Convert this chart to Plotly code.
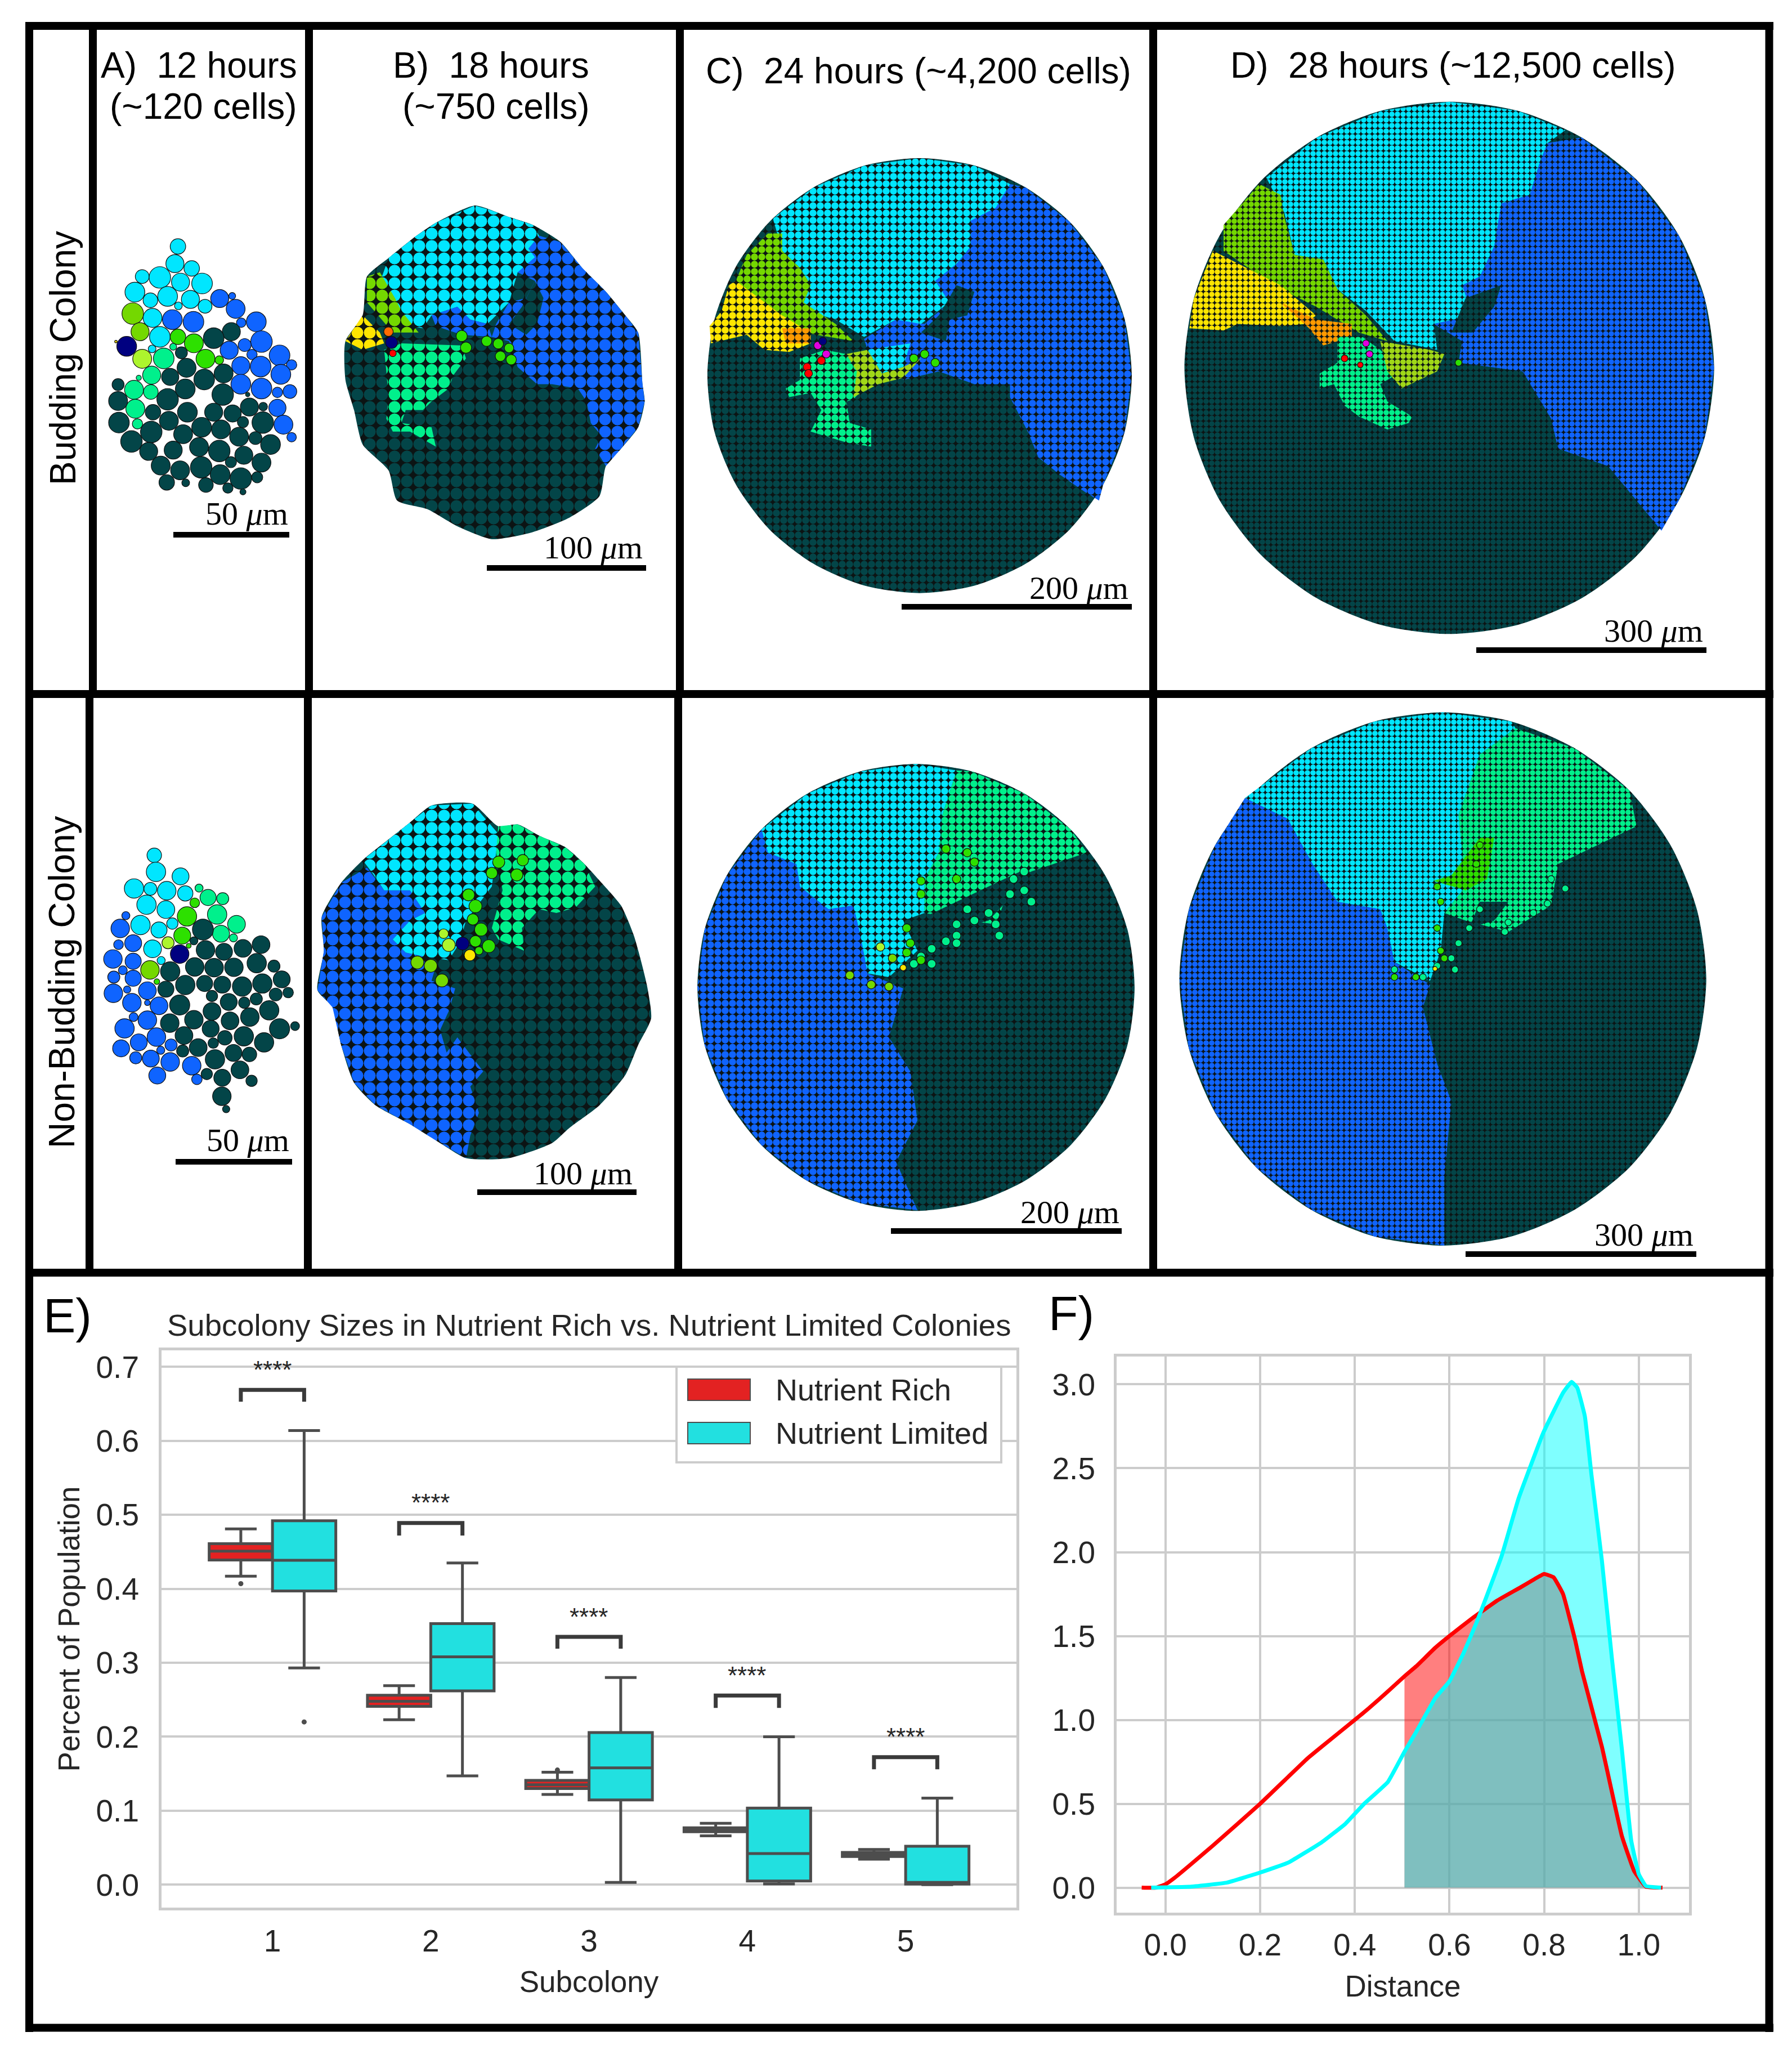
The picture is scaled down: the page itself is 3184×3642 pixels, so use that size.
#!/usr/bin/env python3
"""Budding vs non-budding colony snapshots with subcolony box plot and distance KDE."""
import plotly.graph_objects as go

PAGE = 8  # the browser keeps the default body margin around the figure
WIDTH, HEIGHT = 3184 - PAGE, 3642 - PAGE
FONT = "Liberation Sans"

CYAN = "#00e6ff"
BLUE = "#0f64ff"
DARK = "#034548"
MINT = "#00f08c"
OLIVE = "#74d800"
LIGHT = "#adf52d"
LIME = "#a0d818"
GREEN = "#2de000"
YELLOW = "#ffe600"
ORANGE = "#ff9a00"
NAVY = "#000080"
RED = "#ff0000"
MAGENTA = "#e000e0"

# --- panel E values, one entry per subcolony
subcolony = [1, 2, 3, 4, 5]
rich_q1 = [0.439, 0.241, 0.130, 0.0716, 0.038]
rich_med = [0.451, 0.248, 0.135, 0.074, 0.041]
rich_q3 = [0.461, 0.256, 0.141, 0.0768, 0.0436]
rich_low = [0.417, 0.223, 0.122, 0.066, 0.0345]
rich_high = [0.481, 0.269, 0.152, 0.083, 0.0475]
limited_q1 = [0.397, 0.262, 0.1145, 0.005, 0.0007]
limited_med = [0.4385, 0.308, 0.158, 0.042, 0.003]
limited_q3 = [0.492, 0.353, 0.2056, 0.1035, 0.052]
limited_low = [0.293, 0.147, 0.003, 0.001, 0.0]
limited_high = [0.614, 0.435, 0.28, 0.2, 0.117]
rich_outlier_cat = [1, 3]
rich_outlier_val = [0.407, 0.155]
limited_outlier_cat = [1]
limited_outlier_val = [0.22]
bracket_top = [0.669, 0.489, 0.335, 0.2557, 0.1724]
bracket_low = [0.653, 0.472, 0.319, 0.239, 0.156]
star_y = [0.696, 0.5166, 0.362, 0.283, 0.2]

# --- panel F curves
red_x = [-0.05, -0.02, 0.0, 0.02, 0.05, 0.1, 0.2, 0.3, 0.33, 0.4, 0.43, 0.47, 0.505, 0.53, 0.57, 0.6,
         0.65, 0.68, 0.7, 0.75, 0.78, 0.8, 0.82, 0.84, 0.866, 0.88, 0.922, 0.964, 0.99, 1.015, 1.05]
red_y = [0, 0, 0.02, 0.06, 0.13, 0.25, 0.5, 0.77, 0.84, 1.0, 1.07, 1.17, 1.26, 1.32, 1.43, 1.5,
         1.61, 1.67, 1.71, 1.79, 1.84, 1.87, 1.85, 1.75, 1.47, 1.29, 0.84, 0.31, 0.1, 0.006, 0]
cyan_x = [-0.03, 0.05, 0.13, 0.2, 0.26, 0.33, 0.38, 0.42, 0.47, 0.505, 0.53, 0.57, 0.6, 0.63, 0.66,
          0.71, 0.746, 0.798, 0.84, 0.858, 0.87, 0.886, 0.9, 0.922, 0.943, 0.964, 0.984, 1.0, 1.015, 1.047]
cyan_y = [0, 0.005, 0.03, 0.09, 0.15, 0.27, 0.38, 0.5, 0.63, 0.81, 0.93, 1.13, 1.23, 1.4, 1.6,
          1.975, 2.32, 2.71, 2.95, 3.015, 2.98, 2.81, 2.46, 1.95, 1.37, 0.83, 0.28, 0.08, 0.01, 0]

# --- colonies are kept in the pixel units of crops of the source figure
CROP_UPPER = (40, 40, 0.765, 0.765)
CROP_LOWER = (40, 1220, 0.765, 0.67)
CROP_UPPER_R = (1200, 40, 1.265, 0.765)
CROP_LOWER_R = (1200, 1220, 1.265, 0.67)

# panel A budding: x, y, diameter
a_top_cyan = [(361,520,36),(354,560,42),(393,571,36),(278,590,32),(319,592,50),(367,603,42),(417,606,48),(261,626,46),
              (297,645,34),(337,636,46),(390,643,42),(424,659,32),(302,686,44),(362,658,18),(319,730,48),(301,758,18)]
a_top_blue = [(458,641,42),(487,635,16),(495,665,44),(348,690,46),(397,695,48),(508,697,22),(543,695,46),(555,741,50),
              (480,761,42),(516,749,30),(533,771,24),(597,773,48),(507,797,42),(553,799,48),(625,795,24),(600,817,46),
              (507,840,46),(555,850,48),(592,859,24),(621,857,32),(592,895,40),(606,934,44),(625,963,22)]
a_top_olive = [(256,676,50),(273,718,42)]
a_top_light = [(278,781,44)]
a_top_navy = [(242,752,46)]
a_top_yellow = [(217,741,6)]
a_top_green = [(361,730,36),(398,745,44),(425,781,44),(457,784,20)]
a_top_mint = [(350,753,16),(328,780,48),(300,819,42),(270,825,12),(259,853,44),(298,858,34),(262,897,44),(267,932,24)]
a_top_dark = [(485,718,42),(444,733,48),(369,767,28),(381,802,44),(343,823,40),(422,829,48),(467,815,44),(222,841,28),
              (222,879,44),(337,875,50),(378,851,46),(465,864,50),(527,893,42),(559,892,20),(523,864,10),(303,905,36),
              (383,905,46),(444,905,42),(488,908,40),(224,929,48),(340,925,44),(558,929,50),(512,928,26),(299,951,50),
              (373,956,44),(416,940,46),(461,945,44),(253,973,50),(293,996,42),(350,993,42),(410,986,44),(503,962,44),
              (541,965,30),(576,980,46),(457,995,50),(514,1005,42),(321,1029,44),(366,1040,44),(415,1033,50),(484,1021,26),
              (555,1022,44),(459,1050,46),(507,1059,50),(545,1056,26),(335,1068,36),(379,1069,18),(426,1074,34),(477,1081,24),(512,1090,14)]

# panel A non-budding
a_low_cyan = [(306,447,36),(310,491,48),(367,503,42),(259,535,48),(297,536,32),(335,541,46),(378,548,38),(288,578,48),
              (333,591,44),(274,632,48),(317,645,40),(348,628,28),(302,695,44),(322,726,20)]
a_low_mint = [(410,534,20),(431,559,40),(465,562,30),(452,604,48),(497,630,44),(461,655,42),(490,666,20)]
a_low_green = [(400,573,24),(382,609,48),(371,660,42),(386,687,12),(312,782,14)]
a_low_olive = [(296,751,46)]
a_low_light = [(338,679,30)]
a_low_navy = [(365,709,46)]
a_low_blue = [(240,607,20),(227,641,46),(257,680,42),(223,684,24),(210,722,46),(257,728,40),(233,752,22),(212,770,30),
              (257,773,40),(211,813,46),(243,803,18),(290,806,44),(254,838,46),(290,838,14),(317,846,44),(258,876,22),
              (290,884,46),(237,906,48),(311,929,46),(270,943,42),(229,959,42),(345,950,30),(321,964,20),(263,984,30),
              (298,986,42),(343,995,46),(393,1005,46),(313,1031,42),(405,1041,26)]
a_low_dark = [(419,644,52),(398,674,20),(425,698,46),(468,703,42),(512,694,44),(554,684,44),(544,733,48),(584,741,30),
              (400,743,46),(445,745,46),(491,744,46),(343,755,48),(378,791,48),(423,787,40),(464,790,42),(510,795,48),
              (557,787,48),(602,776,42),(333,802,40),(440,820,28),(588,816,32),(617,811,26),(365,844,50),(479,836,42),
              (515,838,28),(543,828,30),(440,861,44),(573,858,48),(342,892,46),(398,883,46),(482,886,44),(528,876,46),
              (437,907,42),(597,907,50),(633,900,22),(375,925,44),(470,931,36),(514,927,48),(561,943,48),(443,945,26),
              (408,957,44),(372,966,30),(490,971,42),(527,975,36),(447,988,48),(505,1016,44),(428,1027,28),(464,1037,42),
              (532,1045,28),(463,1086,46),(473,1120,18)]

# panel B budding, region outlines
b_top_outline = [(750,740),(790,680),(800,590),(850,547),(915,495),(960,465),(1050,425),(1125,450),(1185,470),(1250,510),(1300,570),
                 (1355,625),(1400,680),(1430,720),(1440,840),(1445,880),(1430,940),(1390,990),(1355,1030),(1340,1100),(1270,1150),
                 (1180,1185),(1090,1200),(1010,1170),(940,1130),(870,1110),(850,1040),(790,980),(770,900),(750,830)]
b_top_blue = [(1200,495),(1250,510),(1300,570),(1355,625),(1400,680),(1430,720),(1440,840),(1445,880),(1430,940),(1390,990),
              (1355,1030),(1330,990),(1345,960),(1320,930),(1310,880),(1290,850),(1230,840),(1195,840),(1150,800),(1140,770),
              (1130,740),(1090,730),(1100,700),(1130,650),(1170,640),(1190,600),(1150,580),(1175,525)]
b_top_cyan = [(850,547),(915,495),(960,465),(1050,425),(1085,435),(1125,450),(1185,470),(1200,495),(1175,525),(1190,545),
              (1150,580),(1130,650),(1100,680),(1080,700),(1040,690),(1010,660),(950,680),(930,710),(880,700),(870,660),(850,620),(835,590)]
b_top_blue2 = [(950,680),(1010,660),(1040,690),(1080,700),(1090,730),(1020,725),(960,705)]
b_top_dark2 = [(1190,600),(1210,640),(1195,700),(1170,725),(1130,700),(1160,660)]
b_top_mint = [(840,760),(880,745),(1020,750),(1030,780),(1000,820),(990,850),(950,880),(930,900),(890,900),(880,930),(950,940),
              (960,985),(900,950),(860,950),(845,920),(850,870),(845,810)]
b_top_olive = [(800,590),(830,580),(865,640),(880,670),(920,720),(860,720),(800,650)]
b_top_yellow = [(750,740),(790,680),(830,720),(840,745),(790,760)]
b_top_green_cells = [(1020,728,26),(1030,755,26),(1078,740,24),(1105,746,24),(1130,756,22),(1110,775,24),(1135,783,24)]
b_top_navy_cells = [(857,743,28)]
b_top_red_cells = [(860,768,16)]
b_top_orange_cells = [(850,718,22)]

# panel B non-budding
b_low_outline = [(695,610),(740,520),(790,460),(850,405),(900,360),(950,315),(1045,310),(1105,370),(1150,365),(1200,395),(1260,425),
                 (1305,470),(1345,520),(1390,580),(1420,660),(1450,790),(1460,880),(1430,950),(1400,1030),(1340,1110),(1270,1170),
                 (1230,1210),(1130,1250),(1030,1250),(970,1210),(900,1160),(820,1110),(770,1050),(740,950),(720,850),(685,805),(700,700)]
b_low_blue = [(740,520),(800,480),(840,540),(900,540),(935,600),(900,620),(860,670),(890,705),(930,715),(960,740),(950,780),
              (1005,800),(990,860),(970,910),(985,970),(1010,930),(1070,1020),(1040,1060),(1060,1130),(1040,1190),(1030,1250),
              (970,1210),(900,1160),(820,1110),(770,1050),(740,950),(720,850),(685,805),(700,700),(695,610)]
b_low_cyan = [(790,460),(850,405),(900,360),(950,315),(1045,310),(1075,350),(1105,390),(1100,440),(1090,530),(1070,560),
              (1030,620),(1015,680),(990,725),(930,715),(890,705),(860,670),(900,620),(935,600),(900,540),(840,540),(810,490)]
b_low_mint = [(1105,370),(1150,365),(1200,395),(1260,425),(1305,470),(1330,530),(1285,585),(1240,600),(1200,590),(1160,640),
              (1165,700),(1105,670),(1090,640),(1115,540),(1100,440)]
b_low_green_cells = [(1106,465,30),(1162,460,28),(1090,494,28),(1148,499,30),(1036,552,30),(1052,582,32),(1046,617,28),
                     (1065,644,32),(1052,675,28),(1083,688,32),(1060,700,20)]
b_low_olive_cells = [(917,731,32),(948,740,32),(974,779,32)]
b_low_light_cells = [(978,655,24),(990,685,32)]
b_low_navy_cells = [(1022,681,32)]
b_low_yellow_cells = [(1039,712,28)]

# panel C budding
c_top_outline = [(641,820),(631,689),(601,567),(554,463),(492,383),(420,332),(343,315),(266,332),(194,383),(132,463),(85,567),(55,689),
                 (45,820),(55,951),(85,1073),(132,1177),(194,1257),(266,1308),(343,1325),(420,1308),(492,1257),(554,1177),(601,1073),(631,951)]
c_top_blue = [(492,383),(554,463),(601,567),(631,689),(641,820),(631,951),(601,1073),(595,1110),(575,1090),(540,1050),(510,1010),
              (495,950),(470,870),(470,840),(420,840),(370,810),(345,770),(350,700),(385,650),(365,600),(395,560),(415,520),(385,510),
              (415,460),(440,420),(470,375)]
c_top_blue2 = [(265,735),(310,690),(350,700),(380,750),(370,810),(320,830),(325,760),(270,760)]
c_top_cyan = [(137,455),(194,383),(266,332),(343,315),(420,332),(470,375),(450,430),(415,460),(415,520),(395,560),(365,600),
              (385,650),(345,700),(310,690),(265,730),(225,690),(205,680),(180,650),(190,610),(175,570),(150,530)]
c_top_cyan2 = [(270,760),(330,745),(320,800),(290,815)]
c_top_olive = [(130,490),(150,490),(150,530),(175,570),(190,610),(180,650),(225,700),(250,740),(180,720),(150,680),(100,620),(85,600),(100,540)]
c_top_yellow = [(75,610),(85,600),(150,680),(180,710),(190,745),(160,765),(125,760),(100,725),(50,745),(48,705),(65,670)]
c_top_orange = [(150,710),(190,710),(190,745),(155,745)]
c_top_mint = [(175,780),(210,760),(240,770),(260,800),(270,840),(250,875),(240,880),(245,930),(275,945),(275,985),(240,975),(190,950),
              (205,900),(190,860),(160,870),(155,850),(175,830)]
c_top_light = [(240,770),(270,760),(290,815),(320,800),(345,780),(320,825),(285,840),(250,870),(255,810)]
c_top_dark2 = [(395,610),(420,625),(410,680),(385,690),(380,740),(345,720),(370,680)]
c_top_magenta_cells = [(200,750,14),(212,770,14)]
c_top_red_cells = [(205,785,14),(185,800,14),(187,815,14)]
c_top_navy_cells = [(207,740,14)]
c_top_green_cells = [(335,780,15),(350,770,15),(365,790,15)]

# panel D budding
d_top_outline = [(1459,802),(1446,642),(1409,493),(1350,365),(1273,267),(1183,205),(1087,184),(991,205),(901,267),(824,365),(765,493),(728,642),
                 (715,802),(728,962),(765,1111),(824,1239),(901,1337),(991,1399),(1087,1420),(1183,1399),(1273,1337),(1350,1239),(1409,1111),(1446,962)]
d_top_blue = [(1273,267),(1350,365),(1409,493),(1446,642),(1459,802),(1446,962),(1409,1111),(1385,1180),(1360,1130),(1330,1070),(1310,1030),
              (1240,990),(1230,920),(1190,810),(1100,790),(1105,740),(1065,700),(1120,680),(1105,610),(1130,590),(1150,520),(1130,510),
              (1160,420),(1200,400),(1215,320),(1225,280)]
d_top_cyan = [(830,360),(901,267),(991,205),(1087,184),(1183,205),(1250,250),(1225,280),(1215,320),(1200,400),(1160,420),(1150,520),(1130,590),
              (1105,610),(1120,680),(1065,700),(1070,760),(1010,740),(970,670),(930,620),(910,550),(870,540),(855,440)]
d_top_olive = [(820,375),(850,400),(855,450),(870,540),(910,550),(930,620),(970,680),(1000,740),(960,720),(900,660),(840,610),(770,530),(770,470)]
d_top_yellow = [(755,530),(850,610),(900,680),(885,700),(850,705),(790,700),(770,715),(722,710),(728,642)]
d_top_orange = [(850,650),(900,690),(950,700),(950,730),(910,750),(890,710)]
d_top_mint = [(930,730),(965,730),(990,760),(1020,810),(990,840),(1000,880),(1035,915),(1030,930),(1000,945),(960,915),(940,890),(925,840),
              (905,850),(905,815),(930,790)]
d_top_lime = [(990,740),(1060,760),(1080,770),(1070,810),(1020,850),(1000,810)]
d_top_dark2 = [(1110,640),(1160,610),(1150,660),(1120,720),(1090,720)]
d_top_magenta_cells = [(970,745,12),(975,770,12)]
d_top_red_cells = [(940,780,12),(962,795,10)]
d_top_green_cells = [(1100,790,12)]

# panel C non-budding
c_low_outline = [(645,797),(635,644),(604,501),(555,378),(491,284),(417,225),(338,205),(259,225),(185,284),(121,378),(72,501),(41,644),
                 (31,797),(41,950),(72,1093),(121,1216),(185,1310),(259,1369),(338,1390),(417,1369),(491,1310),(555,1216),(604,1093),(635,950)]
c_low_blue = [(121,378),(130,440),(170,470),(175,530),(215,590),(250,580),(260,660),(270,760),(320,800),(300,930),(330,1020),(340,1150),
              (310,1260),(340,1388),(259,1369),(185,1310),(121,1216),(72,1093),(41,950),(31,797),(41,644),(72,501)]
c_low_cyan = [(121,378),(185,284),(259,225),(338,205),(395,222),(375,340),(370,440),(350,510),(350,600),(320,620),(340,700),
              (300,770),(270,760),(260,660),(250,580),(215,590),(175,530),(170,470),(130,440)]
c_low_mint = [(395,222),(417,225),(491,284),(555,378),(578,440),(500,490),(470,530),(450,630),(410,620),(350,600),(350,510),(370,440),(375,340)]
c_low_dark2 = [(345,615),(395,570),(440,530),(490,485),(510,500),(470,560),(440,620),(400,640),(350,700),(330,660)]
c_low_mint_cells = [(490,490,15),(475,510,15),(490,540,15),(500,570,15),(470,550,15),(440,600,15),(450,630,15),(455,660,15),(420,620,15),
                    (410,590,15),(395,630,15),(395,660,15),(380,675,15),(360,695,15),(345,715,15),(335,735,15),(360,735,15),(395,680,15)]
c_low_green_cells = [(380,430,15),(410,440,15),(420,465,15),(395,510,15),(345,515,15),(345,550,15),(325,640,15),(330,680,15),(325,705,15),(345,725,15)]
c_low_olive_cells = [(245,765,15),(275,790,15),(300,795,15),(305,720,15)]
c_low_light_cells = [(288,690,15)]
c_low_yellow_cells = [(320,745,11)]

# panel D non-budding
d_low_outline = [(1448,775),(1435,592),(1398,421),(1340,275),(1263,163),(1174,92),(1078,68),(982,92),(893,163),(816,275),(758,421),(721,592),
                 (708,775),(721,958),(758,1129),(816,1275),(893,1387),(982,1458),(1078,1482),(1174,1458),(1263,1387),(1340,1275),(1398,1129),(1435,958)]
d_low_blue = [(800,295),(860,350),(895,470),(930,570),(990,590),(1000,640),(1010,730),(1060,790),(1050,850),(1070,1000),(1090,1100),
              (1080,1300),(1080,1482),(982,1458),(893,1387),(816,1275),(758,1129),(721,958),(708,775),(721,592),(758,421)]
d_low_cyan = [(800,295),(893,163),(982,92),(1078,68),(1174,92),(1180,110),(1130,180),(1100,340),(1110,530),(1080,600),(1075,700),(1060,780),
              (1010,730),(1000,640),(990,590),(930,570),(895,470),(860,350)]
d_low_mint = [(1180,110),(1263,163),(1340,275),(1350,370),(1240,470),(1230,580),(1170,650),(1110,620),(1080,600),(1110,530),(1100,340),(1130,180)]
d_low_dark2 = [(1130,570),(1170,570),(1150,620),(1115,640)]
d_low_green = [(1130,400),(1150,400),(1140,510),(1110,540),(1065,515),(1090,500)]
d_low_mint_cells = [(1230,510,12),(1250,535,12),(1225,575,12),(1205,600,12),(1170,625,12),(1165,650,12),(1130,590,12),(1115,640,12),(1100,680,12),
                    (1090,720,12),(1070,740,12),(1095,750,12),(1050,770,12),(1010,750,12)]
d_low_green_cells = [(1130,420,12),(1125,470,12),(1070,530,12),(1075,570,12),(1070,640,12),(1075,700,12),(1080,720,12),(1040,770,12),(1010,770,12)]
d_low_yellow_cells = [(1067,748,8)]

EDGE = "#0c1414"


def to_px(pts, crop):
    x0, y0, sx, sy = crop
    return [x0 + p[0] * sx for p in pts], [y0 + p[1] * sy for p in pts]


fig = go.Figure()

# overlay axes, whole page in pixels
OV = dict(xaxis="x3", yaxis="y3", showlegend=False, hoverinfo="skip")


def add_region(pts, crop, color, cell, smooth=0.0):
    x, y = to_px(pts, crop)
    x.append(x[0])
    y.append(y[0])
    shape = "spline" if smooth else "linear"
    fig.add_trace(go.Scatter(
        x=x, y=y, mode="lines", line=dict(width=0, color=color, shape=shape, smoothing=smooth), fill="toself",
        fillpattern=dict(shape=".", size=cell, solidity=0.72, fgcolor=color, fgopacity=1, bgcolor=EDGE),
        **OV,
    ))


def add_cells(cells, crop, color):
    x, y = to_px(cells, crop)
    scale = (crop[2] + crop[3]) / 2
    if crop[2] > 1:
        scale = 1.0
    fig.add_trace(go.Scatter(
        x=x, y=y, mode="markers",
        marker=dict(size=[c[2] * scale for c in cells], color=color, opacity=1, line=dict(width=1.2, color="#101010")),
        **OV,
    ))


# panel A
for cells, color in [(a_top_cyan, CYAN), (a_top_blue, BLUE), (a_top_olive, OLIVE), (a_top_light, LIGHT), (a_top_navy, NAVY),
                     (a_top_yellow, YELLOW), (a_top_green, GREEN), (a_top_mint, MINT), (a_top_dark, DARK)]:
    add_cells(cells, CROP_UPPER, color)
for cells, color in [(a_low_cyan, CYAN), (a_low_blue, BLUE), (a_low_olive, OLIVE), (a_low_light, LIGHT), (a_low_navy, NAVY),
                     (a_low_green, GREEN), (a_low_mint, MINT), (a_low_dark, DARK)]:
    add_cells(cells, CROP_LOWER, color)

# panel B
add_region(b_top_outline, CROP_UPPER, DARK, 22, 0.6)
for pts, color in [(b_top_blue, BLUE), (b_top_cyan, CYAN), (b_top_blue2, BLUE), (b_top_dark2, DARK),
                   (b_top_mint, MINT), (b_top_olive, OLIVE), (b_top_yellow, YELLOW)]:
    add_region(pts, CROP_UPPER, color, 22)
for cells, color in [(b_top_green_cells, GREEN), (b_top_navy_cells, NAVY), (b_top_red_cells, RED), (b_top_orange_cells, "#ff6a00")]:
    add_cells(cells, CROP_UPPER, color)
add_region(b_low_outline, CROP_LOWER, DARK, 22, 0.6)
for pts, color in [(b_low_blue, BLUE), (b_low_cyan, CYAN), (b_low_mint, MINT)]:
    add_region(pts, CROP_LOWER, color, 22)
for cells, color in [(b_low_green_cells, GREEN), (b_low_olive_cells, OLIVE), (b_low_light_cells, LIGHT), (b_low_navy_cells, NAVY),
                     (b_low_yellow_cells, YELLOW)]:
    add_cells(cells, CROP_LOWER, color)

# panels C and D
add_region(c_top_outline, CROP_UPPER_R, DARK, 13, 0.8)
for pts, color in [(c_top_blue, BLUE), (c_top_blue2, BLUE), (c_top_cyan, CYAN), (c_top_cyan2, CYAN), (c_top_dark2, DARK),
                   (c_top_olive, OLIVE), (c_top_yellow, YELLOW), (c_top_orange, ORANGE), (c_top_mint, MINT), (c_top_light, LIME)]:
    add_region(pts, CROP_UPPER_R, color, 13)
for cells, color in [(c_top_magenta_cells, MAGENTA), (c_top_red_cells, RED), (c_top_navy_cells, NAVY), (c_top_green_cells, GREEN)]:
    add_cells(cells, CROP_UPPER_R, color)
add_region(d_top_outline, CROP_UPPER_R, DARK, 10, 0.8)
for pts, color in [(d_top_blue, BLUE), (d_top_cyan, CYAN), (d_top_dark2, DARK), (d_top_olive, OLIVE),
                   (d_top_yellow, YELLOW), (d_top_orange, ORANGE), (d_top_mint, MINT), (d_top_lime, LIME)]:
    add_region(pts, CROP_UPPER_R, color, 10)
for cells, color in [(d_top_magenta_cells, MAGENTA), (d_top_red_cells, RED), (d_top_green_cells, GREEN)]:
    add_cells(cells, CROP_UPPER_R, color)
add_region(c_low_outline, CROP_LOWER_R, DARK, 13, 0.8)
for pts, color in [(c_low_blue, BLUE), (c_low_cyan, CYAN), (c_low_mint, MINT), (c_low_dark2, DARK)]:
    add_region(pts, CROP_LOWER_R, color, 13)
for cells, color in [(c_low_mint_cells, MINT), (c_low_green_cells, GREEN), (c_low_olive_cells, OLIVE), (c_low_light_cells, LIGHT),
                     (c_low_yellow_cells, YELLOW)]:
    add_cells(cells, CROP_LOWER_R, color)
add_region(d_low_outline, CROP_LOWER_R, DARK, 10, 0.8)
for pts, color in [(d_low_blue, BLUE), (d_low_cyan, CYAN), (d_low_mint, MINT), (d_low_dark2, DARK), (d_low_green, GREEN)]:
    add_region(pts, CROP_LOWER_R, color, 10)
for cells, color in [(d_low_mint_cells, MINT), (d_low_green_cells, GREEN), (d_low_yellow_cells, YELLOW)]:
    add_cells(cells, CROP_LOWER_R, color)

# panel E
BOX_LINE = "#4d4d4d"
fig.add_trace(go.Box(
    x=subcolony, q1=rich_q1, median=rich_med, q3=rich_q3, lowerfence=rich_low, upperfence=rich_high,
    name="Nutrient Rich", fillcolor="#e32222", line=dict(color=BOX_LINE, width=5), whiskerwidth=0.5,
    boxpoints=False, showlegend=False, xaxis="x", yaxis="y",
))
fig.add_trace(go.Box(
    x=subcolony, q1=limited_q1, median=limited_med, q3=limited_q3, lowerfence=limited_low, upperfence=limited_high,
    name="Nutrient Limited", fillcolor="#22e0e0", line=dict(color=BOX_LINE, width=5), whiskerwidth=0.5,
    boxpoints=False, showlegend=False, xaxis="x", yaxis="y",
))
fig.add_trace(go.Scatter(
    x=[c - 0.2 for c in rich_outlier_cat] + [c + 0.2 for c in limited_outlier_cat],
    y=rich_outlier_val + limited_outlier_val,
    mode="markers", marker=dict(size=9, color=BOX_LINE), showlegend=False, xaxis="x", yaxis="y",
))
for cat, top, low in zip(subcolony, bracket_top, bracket_low):
    fig.add_trace(go.Scatter(
        x=[cat - 0.2, cat - 0.2, cat + 0.2, cat + 0.2], y=[low, top, top, low],
        mode="lines", line=dict(color="#3a3a3a", width=7), showlegend=False, xaxis="x", yaxis="y",
    ))

# panel F
red_fill_x = [x for x in red_x if x >= 0.505]
red_fill_y = [y for x, y in zip(red_x, red_y) if x >= 0.505]
cyan_fill_x = [x for x in cyan_x if x >= 0.505]
cyan_fill_y = [y for x, y in zip(cyan_x, cyan_y) if x >= 0.505]
fig.add_trace(go.Scatter(x=red_fill_x, y=red_fill_y, mode="none", fill="tozeroy", fillcolor="rgba(255,0,0,0.5)",
                         showlegend=False, xaxis="x2", yaxis="y2"))
fig.add_trace(go.Scatter(x=cyan_fill_x, y=cyan_fill_y, mode="none", fill="tozeroy", fillcolor="rgba(0,255,255,0.5)",
                         showlegend=False, xaxis="x2", yaxis="y2"))
fig.add_trace(go.Scatter(x=red_x, y=red_y, mode="lines", line=dict(color="#ff0000", width=7, shape="spline", smoothing=0.3),
                         showlegend=False, xaxis="x2", yaxis="y2"))
fig.add_trace(go.Scatter(x=cyan_x, y=cyan_y, mode="lines", line=dict(color="#00ffff", width=7, shape="spline", smoothing=0.3),
                         showlegend=False, xaxis="x2", yaxis="y2"))

# frame and scale bars, all in page pixels
shapes = []


def line(x0, y0, x1, y1, width=14, color="#000000"):
    shapes.append(dict(type="line", xref="x3", yref="y3", x0=x0, y0=y0, x1=x1, y1=y1,
                       line=dict(color=color, width=width), layer="above"))


line(45, 46, 3151, 46)
line(45, 3602.5, 3151, 3602.5)
line(52, 39, 52, 3610)
line(3143.5, 39, 3143.5, 3610)
line(45, 1233, 3151, 1233)
line(45, 2261, 3151, 2261)
for x_top, x_low in [(165, 159), (549, 547), (1208, 1205), (2049, 2049)]:
    line(x_top, 46, x_top, 1233)
    line(x_low, 1233, x_low, 2261)

scale_bars = [(308, 514, 950), (865, 1148, 1009), (1602, 2011, 1078), (2623, 3032, 1155),
              (312, 519, 2064), (848, 1131, 2118), (1583, 1993, 2187), (2604, 3014, 2228)]
for x0, x1, y in scale_bars:
    line(x0, y, x1, y, width=10)

# hand drawn legend for panel E
shapes.append(dict(type="rect", xref="x3", yref="y3", x0=1202, y0=2428, x1=1779, y1=2598,
                   line=dict(color="#cccccc", width=4), fillcolor="#ffffff", layer="above"))
shapes.append(dict(type="rect", xref="x3", yref="y3", x0=1222, y0=2450, x1=1333, y1=2488,
                   line=dict(color=BOX_LINE, width=2), fillcolor="#e32222", layer="above"))
shapes.append(dict(type="rect", xref="x3", yref="y3", x0=1222, y0=2527, x1=1333, y1=2565,
                   line=dict(color=BOX_LINE, width=2), fillcolor="#22e0e0", layer="above"))

annotations = []


def label(text, x, y, size, anchor="center", color="#000000", angle=0, family=FONT):
    annotations.append(dict(text=text, x=x, y=y, xref="x3", yref="y3", showarrow=False, xanchor=anchor, yanchor="middle",
                            font=dict(size=size, color=color, family=family), textangle=angle))


label("A)  12 hours", 530, 116, 64, "right")
label("(~120 cells)", 530, 189, 64, "right")
label("B)  18 hours", 872, 116, 64)
label("(~750 cells)", 881, 189, 64)
label("C)  24 hours (~4,200 cells)", 1632, 126, 64)
label("D)  28 hours (~12,500 cells)", 2582, 116, 64)
label("Budding Colony", 112, 636, 64, angle=-90)
label("Non-Budding Colony", 110, 1745, 64, angle=-90)

SERIF = "Liberation Serif"
for text, x, y in [("50 <i>μ</i>m", 514, 912), ("100 <i>μ</i>m", 1144, 972), ("200 <i>μ</i>m", 2007, 1044), ("300 <i>μ</i>m", 3028, 1120),
                   ("50 <i>μ</i>m", 516, 2025), ("100 <i>μ</i>m", 1126, 2084), ("200 <i>μ</i>m", 1991, 2153), ("300 <i>μ</i>m", 3011, 2193)]:
    label(text, x, y, 58, "right", family=SERIF)

label("E)", 120, 2337, 86)
label("F)", 1903, 2333, 86)
label("Subcolony Sizes in Nutrient Rich vs. Nutrient Limited Colonies", 1046, 2354, 54.5, color="#262626")
label("Nutrient Rich", 1376, 2469, 54, "left", color="#262626")
label("Nutrient Limited", 1376, 2546, 54, "left", color="#262626")

for cat, y in zip(subcolony, star_y):
    annotations.append(dict(text="****", x=cat, y=y, xref="x", yref="y", showarrow=False, yanchor="middle",
                            font=dict(size=44, color="#262626", family=FONT)))

GRID = "#cccccc"
TICK_FONT = dict(size=55, color="#262626", family=FONT)
TITLE_FONT = dict(size=53, color="#262626", family=FONT)
AXIS = dict(gridcolor=GRID, gridwidth=4, zeroline=False, showline=True, linecolor=GRID, linewidth=5,
            mirror=True, ticks="", tickfont=TICK_FONT, title_font=TITLE_FONT)


def dom_x(a, b):
    return [(a - PAGE) / WIDTH, (b - PAGE) / WIDTH]


def dom_y(top, bottom):
    return [(HEIGHT - (bottom - PAGE)) / HEIGHT, (HEIGHT - (top - PAGE)) / HEIGHT]


fig.update_layout(
    width=WIDTH, height=HEIGHT,
    margin=dict(l=0, r=0, t=0, b=0),
    paper_bgcolor="white", plot_bgcolor="rgba(0,0,0,0)",
    showlegend=False,
    boxmode="group", boxgap=0.2, boxgroupgap=0,
    shapes=shapes, annotations=annotations,
    xaxis=dict(domain=dom_x(287, 1806), range=[0.299, 5.70], tickvals=subcolony, anchor="y", showgrid=False,
               title=dict(text="Subcolony", standoff=25), ticklabelstandoff=7, **AXIS),
    yaxis=dict(domain=dom_y(2399, 3389), range=[-0.031, 0.7224], dtick=0.1, tickformat=".1f", anchor="x", showgrid=True,
               title=dict(text="Percent of Population", standoff=13), ticklabelstandoff=24, **AXIS),
    xaxis2=dict(domain=dom_x(1984, 3001), range=[-0.103, 1.106], dtick=0.2, tickformat=".1f", anchor="y2", showgrid=True,
                title=dict(text="Distance", standoff=26), ticklabelstandoff=5, **AXIS),
    yaxis2=dict(domain=dom_y(2410, 3398), range=[-0.149, 3.166], dtick=0.5, tickformat=".1f", anchor="x2", showgrid=True,
                ticklabelstandoff=22, **AXIS),
    xaxis3=dict(domain=[0, 1], range=[PAGE, 3184], visible=False, anchor="y3", fixedrange=True),
    yaxis3=dict(domain=[0, 1], range=[3642, PAGE], visible=False, anchor="x3", fixedrange=True),
)

fig.write_html("out.html")
